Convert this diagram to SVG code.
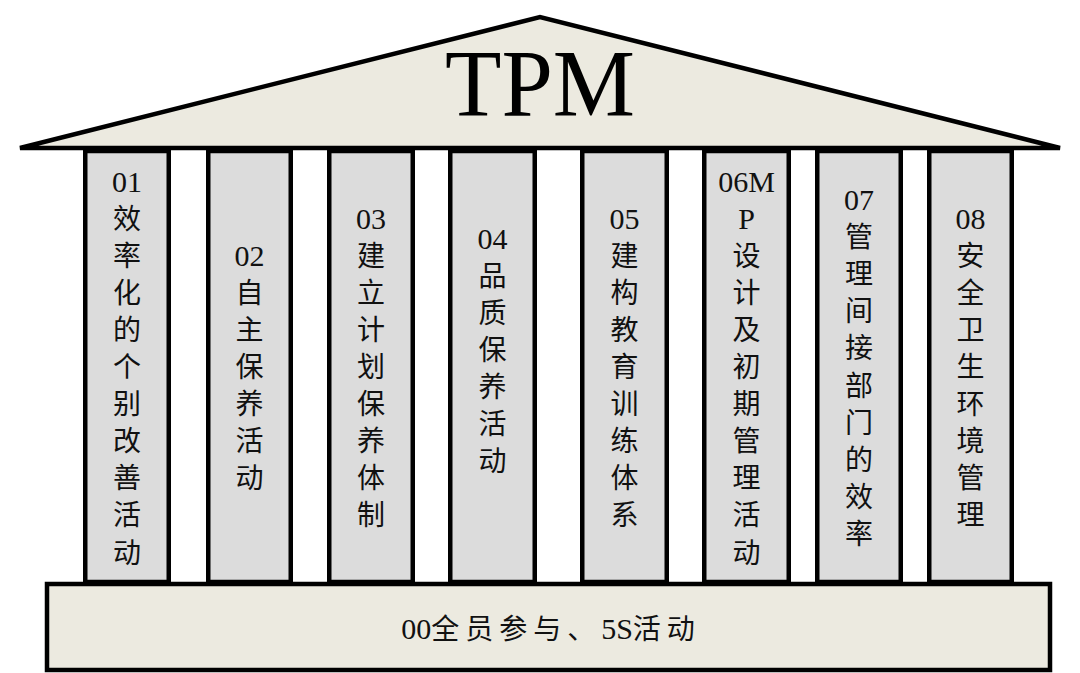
<svg xmlns="http://www.w3.org/2000/svg" width="1080" height="673" viewBox="0 0 1080 673">
<style>
.pillar{fill:#DCDCDC;stroke:#000;stroke-width:4.5}
.cream{fill:#ECEAE0;stroke:#000;stroke-width:4.5}
.lbl{font-family:"Liberation Serif","Noto Sans CJK SC",serif;font-size:28px;fill:#111;text-anchor:middle}
.n{font-size:30px}
.title{font-family:"Liberation Serif",serif;font-size:96px;fill:#000;text-anchor:middle}
.base{font-family:"Liberation Serif","Noto Sans CJK SC",serif;font-size:28px;fill:#111;text-anchor:middle}
.sp{letter-spacing:6px}
</style>
<rect width="1080" height="673" fill="#fff"/>
<g id="p1"><rect class="pillar" x="85.25" y="151" width="83.5" height="431"/>
<text class="lbl" x="127" y="191.5"><tspan class="n" x="127">01</tspan><tspan x="127" dy="37.1">效</tspan><tspan x="127" dy="37.1">率</tspan><tspan x="127" dy="37.1">化</tspan><tspan x="127" dy="37.1">的</tspan><tspan x="127" dy="37.1">个</tspan><tspan x="127" dy="37.1">别</tspan><tspan x="127" dy="37.1">改</tspan><tspan x="127" dy="37.1">善</tspan><tspan x="127" dy="37.1">活</tspan><tspan x="127" dy="37.1">动</tspan></text></g>
<g id="p2"><rect class="pillar" x="208.25" y="151" width="82.5" height="431"/>
<text class="lbl" x="249.5" y="265.7"><tspan class="n" x="249.5">02</tspan><tspan x="249.5" dy="37.1">自</tspan><tspan x="249.5" dy="37.1">主</tspan><tspan x="249.5" dy="37.1">保</tspan><tspan x="249.5" dy="37.1">养</tspan><tspan x="249.5" dy="37.1">活</tspan><tspan x="249.5" dy="37.1">动</tspan></text></g>
<g id="p3"><rect class="pillar" x="329.25" y="151" width="83.5" height="431"/>
<text class="lbl" x="371" y="228.6"><tspan class="n" x="371">03</tspan><tspan x="371" dy="37.1">建</tspan><tspan x="371" dy="37.1">立</tspan><tspan x="371" dy="37.1">计</tspan><tspan x="371" dy="37.1">划</tspan><tspan x="371" dy="37.1">保</tspan><tspan x="371" dy="37.1">养</tspan><tspan x="371" dy="37.1">体</tspan><tspan x="371" dy="37.1">制</tspan></text></g>
<g id="p4"><rect class="pillar" x="450.25" y="151" width="84.5" height="431"/>
<text class="lbl" x="492.5" y="248.7"><tspan class="n" x="492.5">04</tspan><tspan x="492.5" dy="37.1">品</tspan><tspan x="492.5" dy="37.1">质</tspan><tspan x="492.5" dy="37.1">保</tspan><tspan x="492.5" dy="37.1">养</tspan><tspan x="492.5" dy="37.1">活</tspan><tspan x="492.5" dy="37.1">动</tspan></text></g>
<g id="p5"><rect class="pillar" x="582.25" y="151" width="84.5" height="431"/>
<text class="lbl" x="624.5" y="228.6"><tspan class="n" x="624.5">05</tspan><tspan x="624.5" dy="37.1">建</tspan><tspan x="624.5" dy="37.1">构</tspan><tspan x="624.5" dy="37.1">教</tspan><tspan x="624.5" dy="37.1">育</tspan><tspan x="624.5" dy="37.1">训</tspan><tspan x="624.5" dy="37.1">练</tspan><tspan x="624.5" dy="37.1">体</tspan><tspan x="624.5" dy="37.1">系</tspan></text></g>
<g id="p6"><rect class="pillar" x="704.25" y="151" width="84.5" height="431"/>
<text class="lbl" x="746.5" y="191.5"><tspan class="n" x="746.5">06M</tspan><tspan class="n" x="746.5" dy="37.1">P</tspan><tspan x="746.5" dy="37.1">设</tspan><tspan x="746.5" dy="37.1">计</tspan><tspan x="746.5" dy="37.1">及</tspan><tspan x="746.5" dy="37.1">初</tspan><tspan x="746.5" dy="37.1">期</tspan><tspan x="746.5" dy="37.1">管</tspan><tspan x="746.5" dy="37.1">理</tspan><tspan x="746.5" dy="37.1">活</tspan><tspan x="746.5" dy="37.1">动</tspan></text></g>
<g id="p7"><rect class="pillar" x="817.25" y="151" width="83.5" height="431"/>
<text class="lbl" x="859" y="210"><tspan class="n" x="859">07</tspan><tspan x="859" dy="37.1">管</tspan><tspan x="859" dy="37.1">理</tspan><tspan x="859" dy="37.1">间</tspan><tspan x="859" dy="37.1">接</tspan><tspan x="859" dy="37.1">部</tspan><tspan x="859" dy="37.1">门</tspan><tspan x="859" dy="37.1">的</tspan><tspan x="859" dy="37.1">效</tspan><tspan x="859" dy="37.1">率</tspan></text></g>
<g id="p8"><rect class="pillar" x="929.25" y="151" width="82.5" height="431"/>
<text class="lbl" x="970.5" y="228.6"><tspan class="n" x="970.5">08</tspan><tspan x="970.5" dy="37.1">安</tspan><tspan x="970.5" dy="37.1">全</tspan><tspan x="970.5" dy="37.1">卫</tspan><tspan x="970.5" dy="37.1">生</tspan><tspan x="970.5" dy="37.1">环</tspan><tspan x="970.5" dy="37.1">境</tspan><tspan x="970.5" dy="37.1">管</tspan><tspan x="970.5" dy="37.1">理</tspan></text></g>
<g id="roof"><polygon class="cream" points="20,148 540,17 1060,148"/>
<text class="title" x="540" y="116" textLength="190" lengthAdjust="spacingAndGlyphs">TPM</text></g>
<g id="base"><rect class="cream" x="47" y="584" width="1003" height="86"/>
<text class="base" x="548" y="639"><tspan class="n">00</tspan><tspan class="sp">全员参与、</tspan><tspan class="n">5S</tspan><tspan class="sp">活</tspan><tspan>动</tspan></text></g>
<g id="connectors"></g>
</svg>
